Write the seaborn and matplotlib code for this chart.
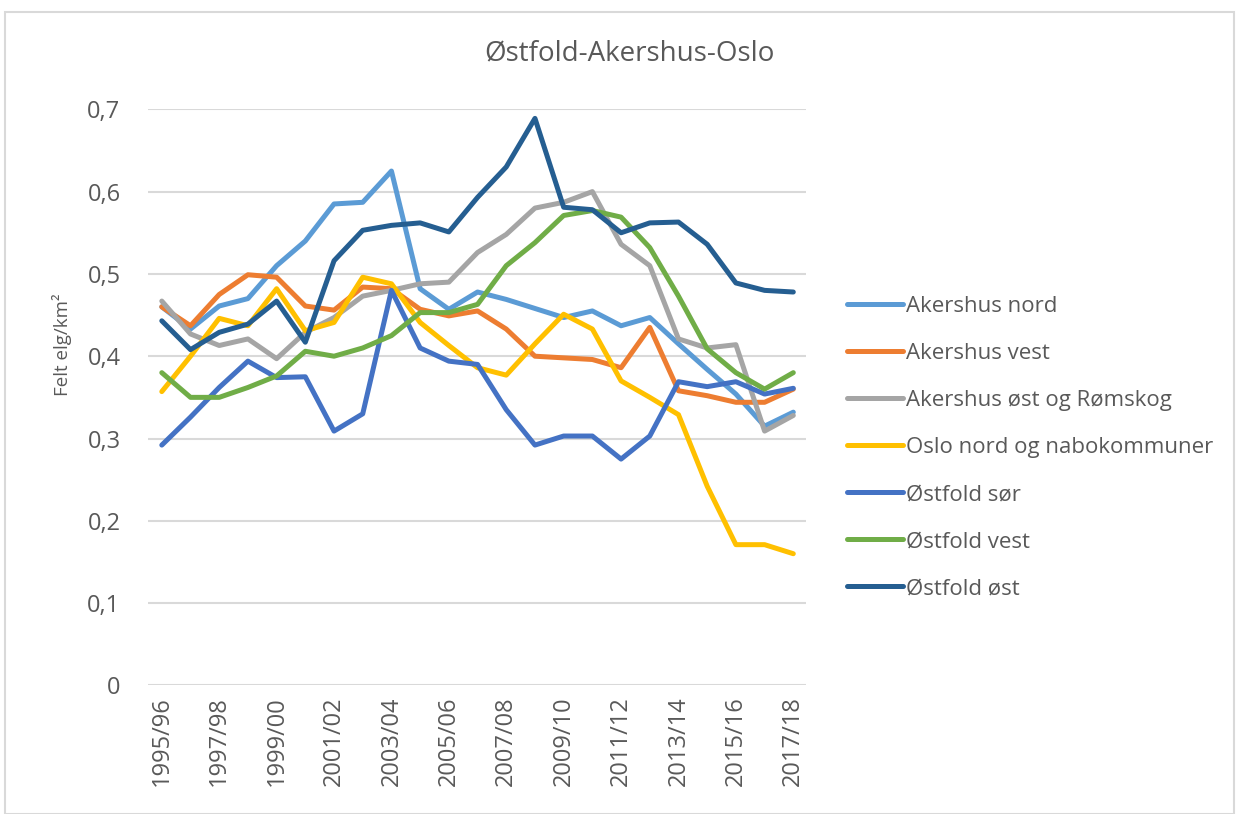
import numpy as np
import pandas as pd
import matplotlib
matplotlib.use("Agg")
import matplotlib.pyplot as plt
import seaborn as sns
from matplotlib.patches import Rectangle

seasons = ["1995/96", "1996/97", "1997/98", "1998/99", "1999/00", "2000/01", "2001/02",
           "2002/03", "2003/04", "2004/05", "2005/06", "2006/07", "2007/08", "2008/09",
           "2009/10", "2010/11", "2011/12", "2012/13", "2013/14", "2014/15", "2015/16",
           "2016/17", "2017/18"]

akershus_nord = [0.460, 0.433, 0.461, 0.470, 0.510, 0.540, 0.585, 0.587, 0.625, 0.482,
                 0.457, 0.478, 0.469, 0.458, 0.447, 0.455, 0.437, 0.447, 0.415, 0.384,
                 0.354, 0.315, 0.332]
akershus_vest = [0.460, 0.437, 0.475, 0.499, 0.496, 0.461, 0.456, 0.484, 0.482, 0.457,
                 0.449, 0.455, 0.433, 0.400, 0.398, 0.396, 0.386, 0.435, 0.358, 0.352,
                 0.344, 0.344, 0.360]
akershus_ost = [0.467, 0.427, 0.413, 0.421, 0.397, 0.429, 0.447, 0.473, 0.480, 0.488,
                0.490, 0.526, 0.548, 0.580, 0.587, 0.600, 0.536, 0.510, 0.421, 0.410,
                0.414, 0.309, 0.328]
oslo_nord = [0.357, 0.400, 0.446, 0.437, 0.482, 0.431, 0.441, 0.496, 0.488, 0.441,
             0.413, 0.386, 0.377, 0.415, 0.451, 0.433, 0.370, 0.350, 0.329, 0.242,
             0.171, 0.171, 0.160]
ostfold_sor = [0.292, 0.326, 0.362, 0.394, 0.374, 0.375, 0.309, 0.330, 0.480, 0.410,
               0.394, 0.390, 0.335, 0.292, 0.303, 0.303, 0.275, 0.303, 0.369, 0.363,
               0.369, 0.354, 0.361]
ostfold_vest = [0.380, 0.350, 0.350, 0.362, 0.376, 0.406, 0.400, 0.410, 0.425, 0.453,
                0.453, 0.463, 0.510, 0.538, 0.571, 0.577, 0.569, 0.532, 0.473, 0.409,
                0.380, 0.360, 0.380]
ostfold_ost = [0.443, 0.408, 0.429, 0.439, 0.467, 0.417, 0.516, 0.553, 0.559, 0.562,
               0.551, 0.593, 0.630, 0.689, 0.581, 0.578, 0.550, 0.562, 0.563, 0.536,
               0.489, 0.480, 0.478]

series_names = ["Akershus nord", "Akershus vest", "Akershus øst og Rømskog",
                "Oslo nord og nabokommuner", "Østfold sør", "Østfold vest", "Østfold øst"]
series_values = [akershus_nord, akershus_vest, akershus_ost, oslo_nord,
                 ostfold_sor, ostfold_vest, ostfold_ost]
colors = ["#5B9BD5", "#ED7D31", "#A5A5A5", "#FFC000", "#4472C4", "#70AD47", "#255E91"]

yticks = [0, 0.1, 0.2, 0.3, 0.4, 0.5, 0.6, 0.7]
ytick_labels = ["0", "0,1", "0,2", "0,3", "0,4", "0,5", "0,6", "0,7"]

rows = []
for name, vals in zip(series_names, series_values):
    for i, v in enumerate(vals):
        rows.append({"idx": i, "value": v, "series": name})
df = pd.DataFrame(rows)

sns.set_theme(style="white")
plt.rcParams['font.family'] = ['Open Sans', 'DejaVu Sans']

fig = plt.figure(figsize=(12.39, 8.14), dpi=100)
ax = fig.add_axes([0.1197, 0.158, 0.531, 0.7077])

sns.lineplot(data=df, x="idx", y="value", hue="series", hue_order=series_names,
             palette=colors, linewidth=3.6, ax=ax, legend=True,
             solid_capstyle="round", solid_joinstyle="round")

ax.set_xlim(-0.47, 22.45)
ax.set_ylim(0, 0.7)
ax.set_yticks(yticks)
ax.set_yticklabels(ytick_labels)
ax.set_xticks(range(0, len(seasons), 2))
ax.set_xticklabels(seasons[::2], rotation=90)
ax.tick_params(axis="both", length=0, labelsize=17, colors="#595959")
ax.tick_params(axis="y", pad=20)
ax.tick_params(axis="x", pad=8)
ax.yaxis.grid(True, color="#D9D9D9", linewidth=1.5)
ax.set_axisbelow(True)
for s in ax.spines.values():
    s.set_visible(False)
ax.set_xlabel("")
ax.set_ylabel("Felt elg/km²", fontsize=13.5, color="#595959")
ax.yaxis.set_label_coords(-0.116, 0.591)

fig.text(0.508, 0.934, "Østfold-Akershus-Oslo", ha="center", va="center",
         fontsize=20, color="#595959")

handles, labels = ax.get_legend_handles_labels()
for h in handles:
    h.set_linewidth(3.6)
leg = ax.legend(handles, labels, loc="upper left", bbox_to_anchor=(1.0486, 0.691),
                frameon=False, fontsize=16, handlelength=2.5, handletextpad=0.14,
                labelspacing=1.17, borderaxespad=0)
for t in leg.get_texts():
    t.set_color("#595959")

fig.patches.append(Rectangle((0.004, 0.0), 0.992, 0.985, transform=fig.transFigure,
                             fill=False, edgecolor="#D9D9D9", linewidth=1.5))

fig.savefig("out.png", dpi=100, facecolor="white")
